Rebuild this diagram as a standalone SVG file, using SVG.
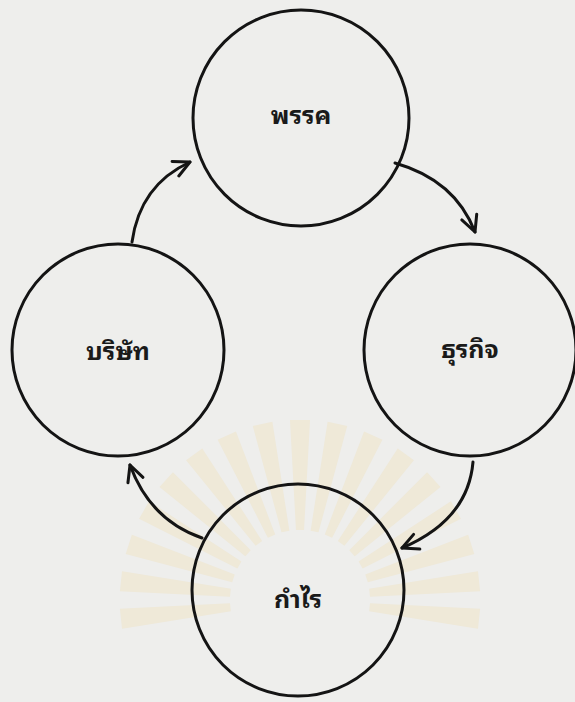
<svg xmlns="http://www.w3.org/2000/svg" width="575" height="702" viewBox="0 0 575 702">
<defs>
<style>
.node{fill:none;stroke:#141414;stroke-width:3}
.lbl{font-family:"Noto Sans Thai Looped","Noto Serif Thai","Noto Sans Thai","Noto Sans","DejaVu Sans",sans-serif;font-size:25px;font-weight:bold;fill:#1a1a1a;text-anchor:middle}
.conn{fill:none;stroke:#141414;stroke-width:3;stroke-linecap:round}
.ray{fill:#f1e3c0}
</style>
<marker id="ah" viewBox="0 0 20 20" refX="18" refY="10" markerWidth="20" markerHeight="20" markerUnits="userSpaceOnUse" orient="auto">
<path d="M2,2 L18,10 L2,18" fill="none" stroke="#141414" stroke-width="3" stroke-linecap="round" stroke-linejoin="round"/>
</marker>
<path id="wedge" class="ray" d="M-4,-70 L4,-70 L10,-180 L-10,-180 Z"/>
</defs>
<rect width="575" height="702" fill="#eeeeec"/>
<g id="watermark" opacity="0.45">
<g transform="translate(300,600)">
<use href="#wedge"/>
<use href="#wedge" transform="rotate(-12)"/>
<use href="#wedge" transform="rotate(12)"/>
<use href="#wedge" transform="rotate(-24)"/>
<use href="#wedge" transform="rotate(24)"/>
<use href="#wedge" transform="rotate(-36)"/>
<use href="#wedge" transform="rotate(36)"/>
<use href="#wedge" transform="rotate(-48)"/>
<use href="#wedge" transform="rotate(48)"/>
<use href="#wedge" transform="rotate(-60)"/>
<use href="#wedge" transform="rotate(60)"/>
<use href="#wedge" transform="rotate(-72)"/>
<use href="#wedge" transform="rotate(72)"/>
<use href="#wedge" transform="rotate(-84)"/>
<use href="#wedge" transform="rotate(84)"/>
<use href="#wedge" transform="rotate(-96)"/>
<use href="#wedge" transform="rotate(96)"/>
</g>
</g>
<g id="connectors">
<path class="conn" d="M132,242 Q140,185 190,162" marker-end="url(#ah)"/>
<path class="conn" d="M395,163 Q455,180 475,232" marker-end="url(#ah)"/>
<path class="conn" d="M473,462 Q468,520 402,548" marker-end="url(#ah)"/>
<path class="conn" d="M202,538 Q150,520 130,465" marker-end="url(#ah)"/>
</g>
<g id="node-party">
<circle class="node" cx="301" cy="118" r="108"/>
<text class="lbl" x="301" y="124">พรรค</text>
</g>
<g id="node-business">
<circle class="node" cx="470" cy="350" r="106"/>
<text class="lbl" x="470" y="358">ธุรกิจ</text>
</g>
<g id="node-profit">
<circle class="node" cx="298" cy="590" r="106"/>
<text class="lbl" x="298" y="608">กำไร</text>
</g>
<g id="node-company">
<circle class="node" cx="118" cy="350" r="106"/>
<text class="lbl" x="118" y="360">บริษัท</text>
</g>
</svg>
